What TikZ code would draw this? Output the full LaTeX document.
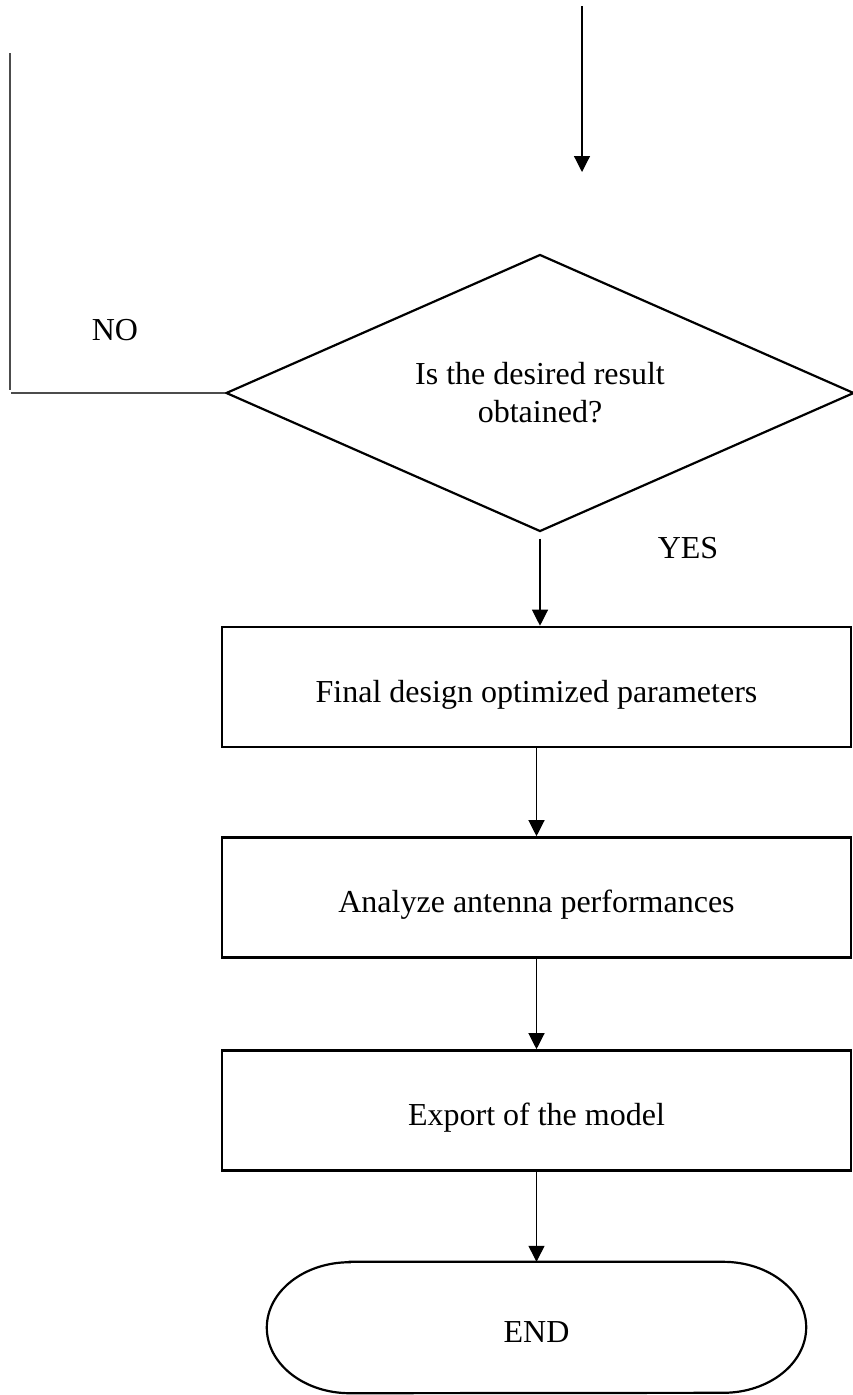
\documentclass[tikz,border=0pt]{standalone}
\usepackage{fontspec}
\setmainfont{Liberation Serif}
\usepackage{tikz}
\usetikzlibrary{shapes,arrows.meta,positioning}

\tikzset{
  stepbox/.style={draw, line width=2.6pt, minimum width=629pt, minimum height=120pt,
    inner sep=0pt, text height=30pt, text depth=0pt},
  decision/.style={diamond, draw, line width=2.2pt, minimum width=628pt, minimum height=277pt,
    aspect=2.27, inner sep=0pt, align=center},
  flow/.style={line width=1.2pt, -{Triangle[length=16pt,width=16pt]}},
  loopline/.style={line width=1.5pt, draw=black!70}
}

\begin{document}
\begin{tikzpicture}[x=1pt, y=-1pt, every node/.style={font=\fontsize{32}{38}\selectfont}]
    \useasboundingbox (0,0) rectangle (853,1395);

    % incoming arrow from the previous step
    \coordinate (in top) at (582,6);
    \coordinate (in end) at (582,172);
    \draw[flow] (in top) -- (in end);

    \node[decision] (check) at (540,393) {Is the desired result\\obtained?};
    \node (no) at (115,330) {NO};
    \node (yes) at (688,548) {YES};

    \node[stepbox] (final) at (536.5,687) {Final design optimized parameters};
    \node[stepbox] (analyze) at (536.5,897.5) {Analyze antenna performances};
    \node[stepbox] (export) at (536.5,1110.5) {Export of the model};
    \node[minimum width=539pt, minimum height=131pt, text height=30pt, text depth=0pt] (stop) at (536.5,1327.5) {END};

    % terminator with flat caps
    \draw[line width=2.2pt] ([xshift=83pt]stop.north west) -- ([xshift=-83pt]stop.north east)
        arc[start angle=90, end angle=-90, x radius=83pt, y radius=65.5pt]
        -- ([xshift=83pt]stop.south west)
        arc[start angle=270, end angle=90, x radius=83pt, y radius=65.5pt] -- cycle;

    % NO branch back up
    \coordinate (back) at (11,393);
    \coordinate (loop top) at (10,53);
    \coordinate (loop bottom) at (10,390);
    \draw[loopline] (check.west) -- (back);
    \draw[loopline] (loop top) -- (loop bottom);

    \draw[flow, shorten <=6pt] (check.south) -- (check.south |- final.north);
    \draw[flow] (final.south) -- (analyze.north);
    \draw[flow] (analyze.south) -- (export.north);
    \draw[flow] (export.south) -- (stop.north);

\end{tikzpicture}
\end{document}
